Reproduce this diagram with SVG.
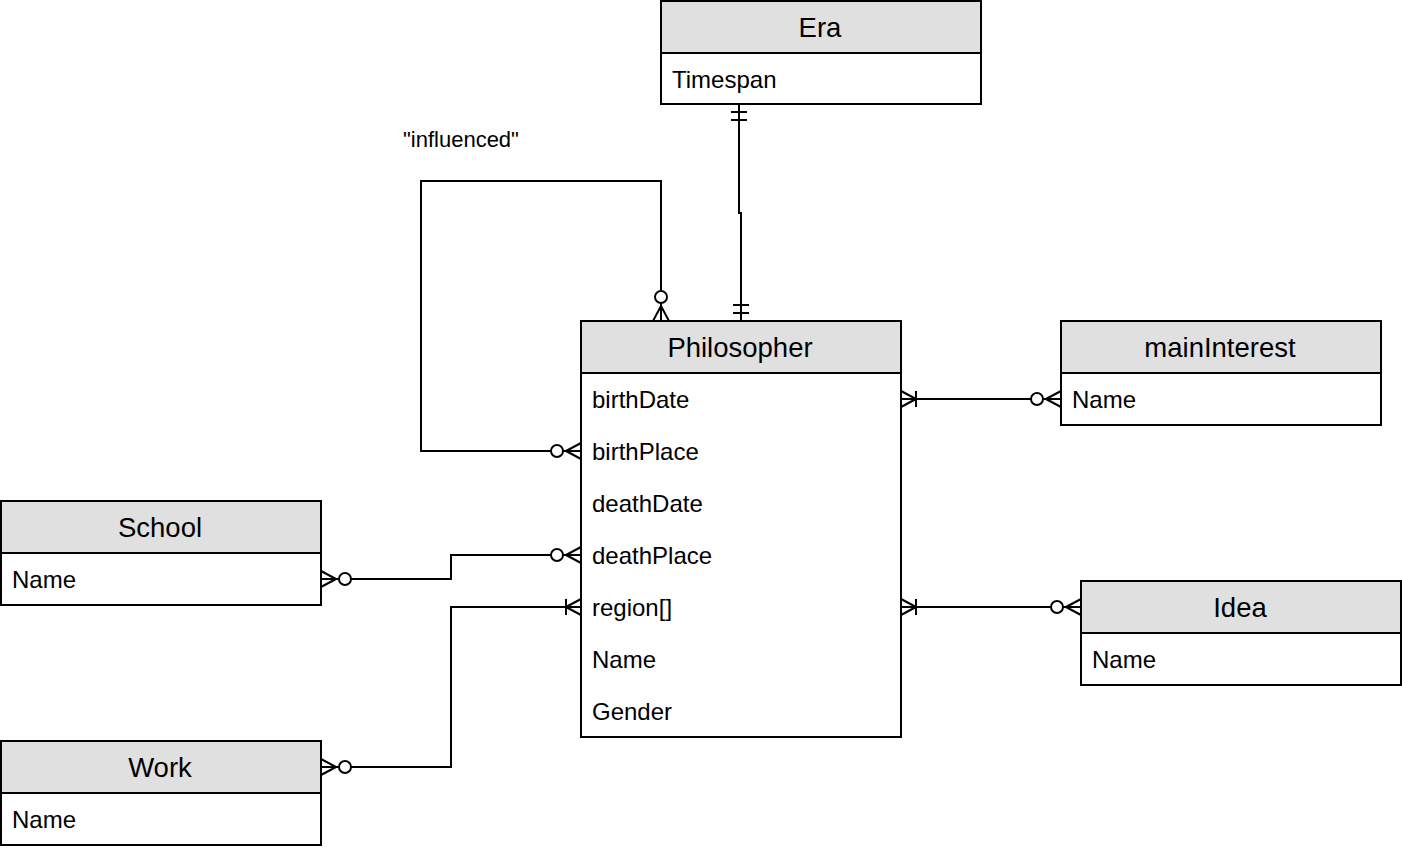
<svg xmlns="http://www.w3.org/2000/svg" width="1402" height="852" viewBox="0 0 1402 852">
<style>
.box{fill:#ffffff;stroke:#000;stroke-width:2}
.hdr{fill:#e0e0e0;stroke:#000;stroke-width:2}
.ttl{font-family:"Liberation Sans",Arial,sans-serif;font-size:27.5px;fill:#000;text-anchor:middle}
.att{font-family:"Liberation Sans",Arial,sans-serif;font-size:24px;fill:#000}
.lbl{font-family:"Liberation Sans",Arial,sans-serif;font-size:22px;fill:#000}
.edge{fill:none;stroke:#000;stroke-width:2}
</style>
<defs>
<marker id="zeroMany" markerUnits="userSpaceOnUse" viewBox="-34 -12 36 24" refX="0" refY="0" markerWidth="36" markerHeight="24" orient="auto-start-reverse" overflow="visible">
<path d="M-15,0 L0,-8 M-15,0 L0,8 M-15,0 L0,0" fill="none" stroke="#000" stroke-width="2"/>
<circle cx="-24" cy="0" r="6" fill="#fff" stroke="#000" stroke-width="2"/>
</marker>
<marker id="oneMany" markerUnits="userSpaceOnUse" viewBox="-34 -12 36 24" refX="0" refY="0" markerWidth="36" markerHeight="24" orient="auto-start-reverse" overflow="visible">
<path d="M-15,0 L0,-8 M-15,0 L0,8 M-15,-8 L-15,8" fill="none" stroke="#000" stroke-width="2"/>
</marker>
<marker id="mandOne" markerUnits="userSpaceOnUse" viewBox="-34 -12 36 24" refX="0" refY="0" markerWidth="36" markerHeight="24" orient="auto-start-reverse" overflow="visible">
<path d="M-8,-8 L-8,8 M-16,-8 L-16,8" fill="none" stroke="#000" stroke-width="2"/>
</marker>
</defs>
<rect x="0" y="0" width="1402" height="852" fill="#ffffff"/>
<g id="era">
<rect class="box" x="661" y="1" width="320" height="103"/>
<rect class="hdr" x="661" y="1" width="320" height="52"/>
<text class="ttl" x="820" y="37">Era</text>
<text class="att" x="672" y="88">Timespan</text>
</g>
<g id="philosopher">
<rect class="box" x="581" y="321" width="320" height="416"/>
<rect class="hdr" x="581" y="321" width="320" height="52"/>
<text class="ttl" x="740" y="357">Philosopher</text>
<text class="att" x="592" y="408">birthDate</text>
<text class="att" x="592" y="460">birthPlace</text>
<text class="att" x="592" y="512">deathDate</text>
<text class="att" x="592" y="564">deathPlace</text>
<text class="att" x="592" y="616">region[]</text>
<text class="att" x="592" y="668">Name</text>
<text class="att" x="592" y="720">Gender</text>
</g>
<g id="maininterest">
<rect class="box" x="1061" y="321" width="320" height="104"/>
<rect class="hdr" x="1061" y="321" width="320" height="52"/>
<text class="ttl" x="1220" y="357">mainInterest</text>
<text class="att" x="1072" y="408">Name</text>
</g>
<g id="school">
<rect class="box" x="1" y="501" width="320" height="104"/>
<rect class="hdr" x="1" y="501" width="320" height="52"/>
<text class="ttl" x="160" y="537">School</text>
<text class="att" x="12" y="588">Name</text>
</g>
<g id="idea">
<rect class="box" x="1081" y="581" width="320" height="104"/>
<rect class="hdr" x="1081" y="581" width="320" height="52"/>
<text class="ttl" x="1240" y="617">Idea</text>
<text class="att" x="1092" y="668">Name</text>
</g>
<g id="work">
<rect class="box" x="1" y="741" width="320" height="104"/>
<rect class="hdr" x="1" y="741" width="320" height="52"/>
<text class="ttl" x="160" y="777">Work</text>
<text class="att" x="12" y="828">Name</text>
</g>
<g id="connectors">
<path class="edge" d="M739,104 V213 H741 V321" marker-start="url(#mandOne)" marker-end="url(#mandOne)"/>
<path class="edge" d="M581,451 H421 V181 H661 V321" marker-start="url(#zeroMany)" marker-end="url(#zeroMany)"/>
<path class="edge" d="M901,399 H1061" marker-start="url(#oneMany)" marker-end="url(#zeroMany)"/>
<path class="edge" d="M321,579 H451 V555 H581" marker-start="url(#zeroMany)" marker-end="url(#zeroMany)"/>
<path class="edge" d="M321,767 H451 V607 H581" marker-start="url(#zeroMany)" marker-end="url(#oneMany)"/>
<path class="edge" d="M901,607 H1081" marker-start="url(#oneMany)" marker-end="url(#zeroMany)"/>
</g>
<text class="lbl" x="403" y="147">"influenced"</text>
</svg>
